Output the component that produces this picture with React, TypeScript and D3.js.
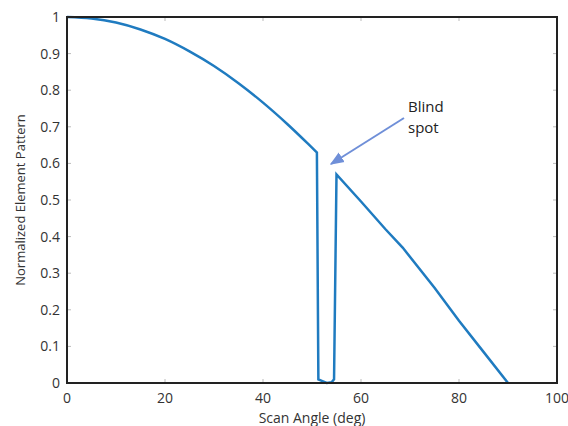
import React from "react";
import * as d3 from "d3";

const angles = [0, 5, 10, 15, 20, 25, 30, 35, 40, 45, 50, 51, 51.3, 52, 53, 54, 54.5, 55, 60, 65, 68.5, 75, 80, 85, 90];
const pattern = [1, 0.996, 0.985, 0.966, 0.94, 0.906, 0.866, 0.819, 0.766, 0.707, 0.643, 0.63, 0.01, 0.006, 0, 0.002, 0.01, 0.57, 0.496, 0.42, 0.37, 0.26, 0.17, 0.085, 0];
const xTicks = [0, 20, 40, 60, 80, 100];
const yTicks = [0, 0.1, 0.2, 0.3, 0.4, 0.5, 0.6, 0.7, 0.8, 0.9, 1];
const annotation = ["Blind", "spot"];
const smoothEnd = 11; // index where the smooth main-lobe part ends

export default function App() {
  const W = 568, H = 426;
  const left = 67, right = 557, top = 17, bottom = 383;
  const x = d3.scaleLinear().domain([0, 100]).range([left, right]);
  const y = d3.scaleLinear().domain([0, 1]).range([bottom, top]);
  const pts: [number, number][] = angles.map((a, i) => [x(a), y(pattern[i])]);
  const smooth = d3.line().curve(d3.curveMonotoneX)(pts.slice(0, smoothEnd + 1)) || "";
  const rest = d3.line()(pts.slice(smoothEnd)) || "";
  const font = "'Open Sans', 'Noto Sans', sans-serif";
  const tickLen = 4;
  return (
    <svg width={W} height={H} style={{ position: "absolute", left: 0, top: 0 }}>
      <defs>
        <marker id="ah" viewBox="0 0 10 10" refX="9" refY="5" markerWidth="7" markerHeight="7" orient="auto">
          <path d="M0,1 L10,5 L0,9 Z" fill="#6f8fd8" />
        </marker>
      </defs>
      <rect x={0} y={0} width={W} height={H} fill="#fff" />
      {xTicks.map((t) => (
        <g key={"x" + t}>
          <line x1={x(t)} x2={x(t)} y1={bottom} y2={bottom - tickLen} stroke="#bbb" />
          <line x1={x(t)} x2={x(t)} y1={top} y2={top + tickLen} stroke="#bbb" />
          <text x={x(t)} y={403} textAnchor="middle" fontSize={14} fontFamily={font} fill="#333">{t}</text>
        </g>
      ))}
      {yTicks.map((t) => (
        <g key={"y" + t}>
          <line x1={left} x2={left + tickLen} y1={y(t)} y2={y(t)} stroke="#bbb" />
          <line x1={right} x2={right - tickLen} y1={y(t)} y2={y(t)} stroke="#bbb" />
          <text x={60} y={y(t) + 5} textAnchor="end" fontSize={14} fontFamily={font} fill="#333">{t}</text>
        </g>
      ))}
      <path d={smooth + rest.replace(/^M/, "L")} fill="none" stroke="#1f7bc0" strokeWidth={2.5} strokeLinejoin="miter" />
      <rect x={left} y={top} width={right - left} height={bottom - top} fill="none" stroke="#222" strokeWidth={2} />
      <line x1={404} y1={118} x2={331} y2={164} stroke="#6f8fd8" strokeWidth={2} markerEnd="url(#ah)" />
      {annotation.map((s, i) => (
        <text key={s} x={408} y={112 + i * 21} fontSize={15} fontFamily={font} fill="#222">{s}</text>
      ))}
      <text x={312} y={423} textAnchor="middle" fontSize={14} fontFamily={font} fill="#333">Scan Angle (deg)</text>
      <text transform={`translate(25,200) rotate(-90)`} textAnchor="middle" fontSize={13} fontFamily={font} fill="#333">Normalized Element Pattern</text>
    </svg>
  );
}
